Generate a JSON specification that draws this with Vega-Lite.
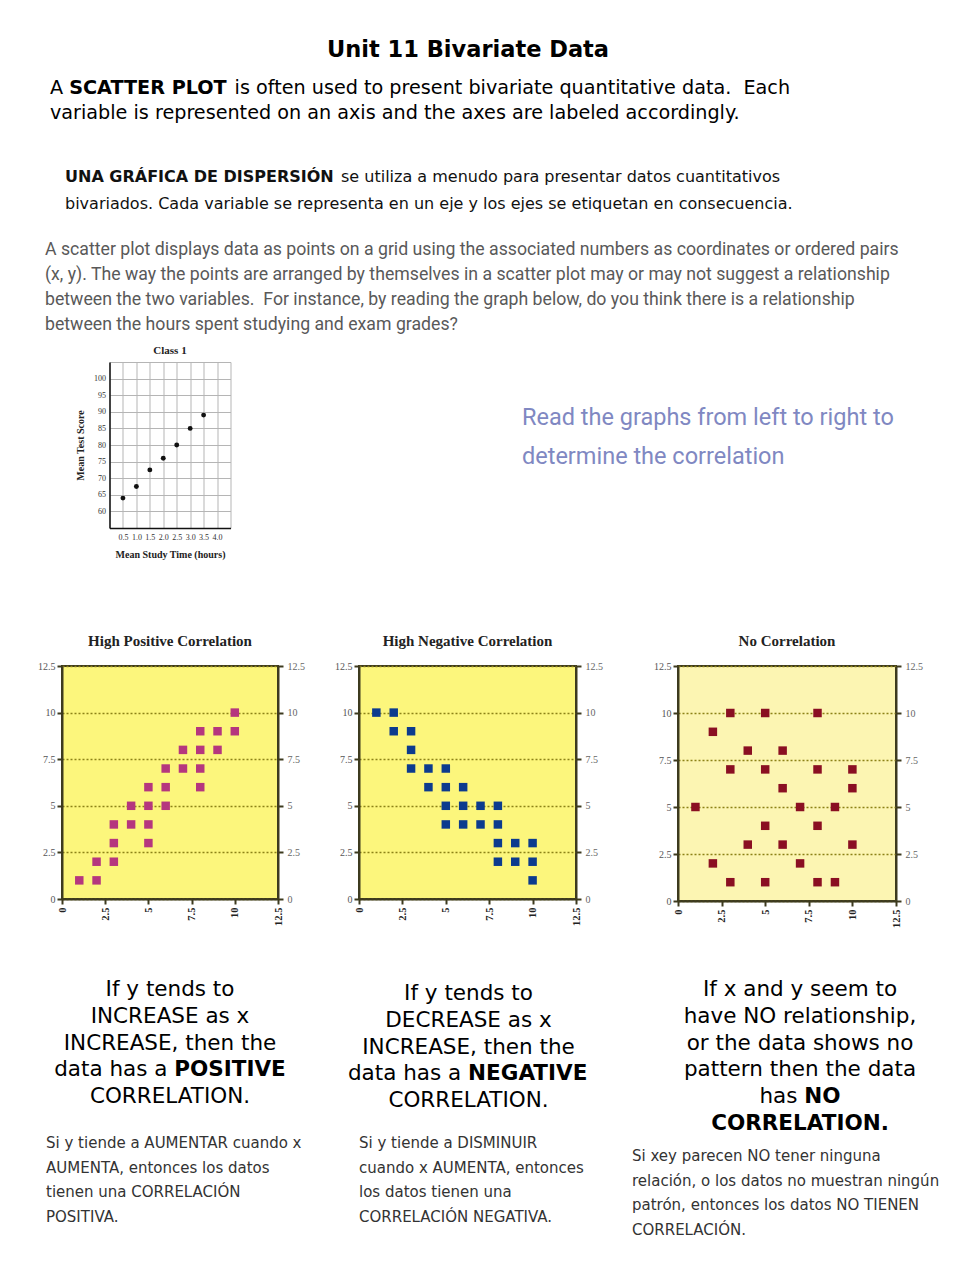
{
  "$schema": "https://vega.github.io/schema/vega-lite/v6.json",
  "background": "white",
  "padding": 0,
  "columns": 4,
  "spacing": {"row": 0, "column": 19},
  "bounds": "flush",
  "center": {"row": false, "column": true},
  "config": {"view": {"stroke": null}},
  "concat": [
    {"width": 340, "height": 1, "data": {"values": []}, "mark": "text"},
    {"width": 218, "height": 78, "data": {"values": [{"t": "Unit 11 Bivariate Data"}]},
     "mark": {"type": "text", "font": "DejaVu Sans", "fontSize": 22.5, "fontWeight": "bold", "baseline": "top", "align": "center", "color": "#000"},
     "encoding": {"text": {"field": "t"}}},
    {"width": 27, "height": 1, "data": {"values": []}, "mark": "text"},
    {"width": 1, "height": 1, "data": {"values": []}, "mark": "text"},

    {"width": 240, "height": 2,
     "data": {"values": [{"a": "A\nvariable is represented on an axis and the axes are labeled accordingly.", "b": "SCATTER PLOT", "c": "is often used to present bivariate quantitative data.\u00a0 Each"}]},
     "encoding": {"x": {"datum": 0, "type": "quantitative", "scale": {"domain": [0, 1]}, "axis": null}},
     "layer": [
       {"mark": {"type": "text", "font": "DejaVu Sans", "fontSize": 19.2, "baseline": "top", "align": "left", "lineBreak": "\n", "lineHeight": 25, "color": "#000"}, "encoding": {"text": {"field": "a"}}},
       {"mark": {"type": "text", "font": "DejaVu Sans", "fontSize": 19.2, "fontWeight": "bold", "baseline": "top", "align": "left", "dx": 19.2, "color": "#000"}, "encoding": {"text": {"field": "b"}}},
       {"mark": {"type": "text", "font": "DejaVu Sans", "fontSize": 19.2, "baseline": "top", "align": "left", "dx": 184.6, "color": "#000"}, "encoding": {"text": {"field": "c"}}}
     ]},
    {"width": 254, "height": 90, "data": {"values": []}, "mark": "text"},
    {"width": 1, "height": 1, "data": {"values": []}, "mark": "text"},
    {"width": 1, "height": 1, "data": {"values": []}, "mark": "text"},

    {"width": 210, "height": 2.8,
     "data": {"values": [{"a": "UNA GRÁFICA DE DISPERSIÓN", "b": "se utiliza a menudo para presentar datos cuantitativos", "c": "bivariados. Cada variable se representa en un eje y los ejes se etiquetan en consecuencia."}]},
     "encoding": {"x": {"datum": 0, "type": "quantitative", "scale": {"domain": [0, 1]}, "axis": null}},
     "layer": [
       {"mark": {"type": "text", "font": "DejaVu Sans", "fontSize": 16, "fontWeight": "bold", "baseline": "top", "align": "left", "color": "#111"}, "encoding": {"text": {"field": "a"}}},
       {"mark": {"type": "text", "font": "DejaVu Sans", "fontSize": 16, "baseline": "top", "align": "left", "dx": 276, "color": "#111"}, "encoding": {"text": {"field": "b"}}},
       {"mark": {"type": "text", "font": "DejaVu Sans", "fontSize": 16, "baseline": "top", "align": "left", "dy": 27, "color": "#111"}, "encoding": {"text": {"field": "c"}}}
     ]},
    {"width": 1, "height": 71, "data": {"values": []}, "mark": "text"},
    {"width": 1, "height": 1, "data": {"values": []}, "mark": "text"},
    {"width": 1, "height": 1, "data": {"values": []}, "mark": "text"},

    {"width": 250, "height": 3.2,
     "data": {"values": [{"t": "A scatter plot displays data as points on a grid using the associated numbers as coordinates or ordered pairs\n(x, y). The way the points are arranged by themselves in a scatter plot may or may not suggest a relationship\nbetween the two variables.\u00a0 For instance, by reading the graph below, do you think there is a relationship\nbetween the hours spent studying and exam grades?"}]},
     "mark": {"type": "text", "font": "Roboto", "fontSize": 17.7, "baseline": "top", "align": "left", "lineBreak": "\n", "lineHeight": 25, "color": "#595959"},
     "encoding": {"x": {"datum": 0, "type": "quantitative", "scale": {"domain": [0, 1]}, "axis": null}, "text": {"field": "t"}}},
    {"width": 1, "height": 123, "data": {"values": []}, "mark": "text"},
    {"width": 1, "height": 1, "data": {"values": []}, "mark": "text"},
    {"width": 1, "height": 1, "data": {"values": []}, "mark": "text"},

    {"width": 121, "height": 166,
     "title": {"text": "Class 1", "font": "Liberation Serif", "fontSize": 11, "fontWeight": "bold", "color": "#222", "frame": "group", "offset": 6},
     "view": {"stroke": "#b5b5b5", "strokeWidth": 1},
     "data": {"values": [
       {"time": 0.5, "score": 64}, {"time": 1.0, "score": 67.5}, {"time": 1.5, "score": 72.5},
       {"time": 2.0, "score": 76}, {"time": 2.5, "score": 80}, {"time": 3.0, "score": 85}, {"time": 3.5, "score": 89}
     ]},
     "mark": {"type": "circle", "size": 24, "color": "#111", "opacity": 1},
     "encoding": {
       "x": {"field": "time", "type": "quantitative", "scale": {"domain": [0, 4.5], "nice": false, "zero": false},
             "axis": {"values": [0.5, 1, 1.5, 2, 2.5, 3, 3.5, 4], "format": ".1f", "grid": true, "gridColor": "#b5b5b5", "tickSize": 0, "domainColor": "#111", "domainWidth": 1.5, "labelFont": "Liberation Serif", "labelFontSize": 8, "labelColor": "#333", "labelPadding": 5, "title": "Mean Study Time (hours)", "titleFont": "Liberation Serif", "titleFontSize": 10, "titleFontWeight": "bold", "titleColor": "#222", "titlePadding": 8}},
       "y": {"field": "score", "type": "quantitative", "scale": {"domain": [55, 105], "nice": false, "zero": false},
             "axis": {"values": [60, 65, 70, 75, 80, 85, 90, 95, 100], "grid": true, "gridColor": "#b5b5b5", "tickSize": 0, "domainColor": "#111", "domainWidth": 1.5, "labelFont": "Liberation Serif", "labelFontSize": 8, "labelColor": "#333", "labelPadding": 4, "title": "Mean Test Score", "titleFont": "Liberation Serif", "titleFontSize": 10, "titleFontWeight": "bold", "titleColor": "#222", "titlePadding": 8}}
     }},
    {"width": 163, "height": 87,
     "data": {"values": [{"t": "Read the graphs from left to right to\ndetermine the correlation"}]},
     "mark": {"type": "text", "font": "Roboto", "fontSize": 23.5, "baseline": "top", "align": "left", "lineBreak": "\n", "lineHeight": 39, "color": "#8088c2"},
     "encoding": {"x": {"datum": 1, "type": "quantitative", "scale": {"domain": [0, 1]}, "axis": null}, "text": {"field": "t"}}},
    {"width": 1, "height": 304, "data": {"values": []}, "mark": "text"},
    {"width": 1, "height": 1, "data": {"values": []}, "mark": "text"},

    {"width": 216, "height": 233,
     "title": {"text": "High Positive Correlation", "font": "Liberation Serif", "fontSize": 15, "fontWeight": "bold", "color": "#222", "frame": "group", "offset": 12},
     "view": {"fill": "#fcf67c", "stroke": "#3d3a1f", "strokeWidth": 2},
     "data": {"values": [
       {"x": 1, "y": 1}, {"x": 2, "y": 1}, {"x": 2, "y": 2}, {"x": 3, "y": 2}, {"x": 3, "y": 3}, {"x": 3, "y": 4},
       {"x": 4, "y": 4}, {"x": 4, "y": 5}, {"x": 5, "y": 3}, {"x": 5, "y": 4}, {"x": 5, "y": 5}, {"x": 5, "y": 6},
       {"x": 6, "y": 5}, {"x": 6, "y": 6}, {"x": 6, "y": 7}, {"x": 7, "y": 7}, {"x": 7, "y": 8}, {"x": 8, "y": 6},
       {"x": 8, "y": 7}, {"x": 8, "y": 8}, {"x": 8, "y": 9}, {"x": 9, "y": 8}, {"x": 9, "y": 9}, {"x": 10, "y": 9}, {"x": 10, "y": 10}
     ]},
     "layer": [
       {"mark": {"type": "square", "size": 72, "color": "#b5367e", "opacity": 1, "filled": true},
        "encoding": {
          "x": {"field": "x", "type": "quantitative", "scale": {"domain": [0, 12.5], "nice": false},
                "axis": {"values": [0, 2.5, 5, 7.5, 10, 12.5], "format": ".1~f", "labelAngle": 270, "labelFont": "Liberation Serif", "labelFontSize": 10.5, "labelFontWeight": "bold", "labelColor": "#222", "labelOverlap": false, "labelFlush": false, "domainColor": "#3d3a1f", "domainWidth": 2, "tickColor": "#3d3a1f", "tickWidth": 2, "tickSize": 5, "labelPadding": 3, "grid": false, "title": null}},
          "y": {"field": "y", "type": "quantitative", "scale": {"domain": [0, 12.5], "nice": false},
                "axis": {"values": [0, 2.5, 5, 7.5, 10, 12.5], "format": ".1~f", "labelFont": "Liberation Serif", "labelFontSize": 10, "labelColor": "#555", "labelOverlap": false, "labelFlush": false, "domainColor": "#3d3a1f", "domainWidth": 2, "tickColor": "#3d3a1f", "tickWidth": 2, "tickSize": 5, "labelPadding": 2, "grid": true, "gridDash": [2, 2], "gridColor": "#8c8217", "gridWidth": 1.5, "title": null}}
        }},
       {"mark": {"type": "square", "size": 72, "opacity": 0},
        "encoding": {
          "y": {"field": "y", "type": "quantitative",
                "axis": {"orient": "right", "values": [0, 2.5, 5, 7.5, 10, 12.5], "format": ".1~f", "labelFont": "Liberation Serif", "labelFontSize": 10, "labelColor": "#666", "labelOverlap": false, "labelFlush": false, "domainColor": "#3d3a1f", "domainWidth": 2, "tickColor": "#3d3a1f", "tickWidth": 2, "tickSize": 5, "labelPadding": 4, "grid": false, "title": null}}
        }}
     ],
     "resolve": {"axis": {"y": "independent"}}},

    {"width": 217, "height": 233,
     "title": {"text": "High Negative Correlation", "font": "Liberation Serif", "fontSize": 15, "fontWeight": "bold", "color": "#222", "frame": "group", "offset": 12},
     "view": {"fill": "#fcf67c", "stroke": "#3d3a1f", "strokeWidth": 2},
     "data": {"values": [
       {"x": 1, "y": 10}, {"x": 2, "y": 10}, {"x": 2, "y": 9}, {"x": 3, "y": 9}, {"x": 3, "y": 8}, {"x": 3, "y": 7},
       {"x": 4, "y": 7}, {"x": 4, "y": 6}, {"x": 5, "y": 7}, {"x": 5, "y": 6}, {"x": 5, "y": 5}, {"x": 5, "y": 4},
       {"x": 6, "y": 6}, {"x": 6, "y": 5}, {"x": 6, "y": 4}, {"x": 7, "y": 5}, {"x": 7, "y": 4}, {"x": 8, "y": 5},
       {"x": 8, "y": 4}, {"x": 8, "y": 3}, {"x": 8, "y": 2}, {"x": 9, "y": 3}, {"x": 9, "y": 2}, {"x": 10, "y": 3},
       {"x": 10, "y": 2}, {"x": 10, "y": 1}
     ]},
     "layer": [
       {"mark": {"type": "square", "size": 72, "color": "#0c3b8e", "opacity": 1, "filled": true},
        "encoding": {
          "x": {"field": "x", "type": "quantitative", "scale": {"domain": [0, 12.5], "nice": false},
                "axis": {"values": [0, 2.5, 5, 7.5, 10, 12.5], "format": ".1~f", "labelAngle": 270, "labelFont": "Liberation Serif", "labelFontSize": 10.5, "labelFontWeight": "bold", "labelColor": "#222", "labelOverlap": false, "labelFlush": false, "domainColor": "#3d3a1f", "domainWidth": 2, "tickColor": "#3d3a1f", "tickWidth": 2, "tickSize": 5, "labelPadding": 3, "grid": false, "title": null}},
          "y": {"field": "y", "type": "quantitative", "scale": {"domain": [0, 12.5], "nice": false},
                "axis": {"values": [0, 2.5, 5, 7.5, 10, 12.5], "format": ".1~f", "labelFont": "Liberation Serif", "labelFontSize": 10, "labelColor": "#555", "labelOverlap": false, "labelFlush": false, "domainColor": "#3d3a1f", "domainWidth": 2, "tickColor": "#3d3a1f", "tickWidth": 2, "tickSize": 5, "labelPadding": 2, "grid": true, "gridDash": [2, 2], "gridColor": "#8c8217", "gridWidth": 1.5, "title": null}}
        }},
       {"mark": {"type": "square", "size": 72, "opacity": 0},
        "encoding": {
          "y": {"field": "y", "type": "quantitative",
                "axis": {"orient": "right", "values": [0, 2.5, 5, 7.5, 10, 12.5], "format": ".1~f", "labelFont": "Liberation Serif", "labelFontSize": 10, "labelColor": "#666", "labelOverlap": false, "labelFlush": false, "domainColor": "#3d3a1f", "domainWidth": 2, "tickColor": "#3d3a1f", "tickWidth": 2, "tickSize": 5, "labelPadding": 4, "grid": false, "title": null}}
        }}
     ],
     "resolve": {"axis": {"y": "independent"}}},

    {"width": 1, "height": 1, "data": {"values": []}, "mark": "text"},

    {"width": 218, "height": 235,
     "title": {"text": "No Correlation", "font": "Liberation Serif", "fontSize": 15, "fontWeight": "bold", "color": "#222", "frame": "group", "offset": 12},
     "view": {"fill": "#fcf5b2", "stroke": "#3d3a1f", "strokeWidth": 2},
     "data": {"values": [
       {"x": 3, "y": 10}, {"x": 5, "y": 10}, {"x": 8, "y": 10}, {"x": 2, "y": 9}, {"x": 4, "y": 8}, {"x": 6, "y": 8},
       {"x": 3, "y": 7}, {"x": 5, "y": 7}, {"x": 8, "y": 7}, {"x": 10, "y": 7}, {"x": 6, "y": 6}, {"x": 10, "y": 6},
       {"x": 1, "y": 5}, {"x": 7, "y": 5}, {"x": 9, "y": 5}, {"x": 5, "y": 4}, {"x": 8, "y": 4}, {"x": 4, "y": 3},
       {"x": 6, "y": 3}, {"x": 10, "y": 3}, {"x": 2, "y": 2}, {"x": 7, "y": 2}, {"x": 3, "y": 1}, {"x": 5, "y": 1},
       {"x": 8, "y": 1}, {"x": 9, "y": 1}
     ]},
     "layer": [
       {"mark": {"type": "square", "size": 72, "color": "#8a0f22", "opacity": 1, "filled": true},
        "encoding": {
          "x": {"field": "x", "type": "quantitative", "scale": {"domain": [0, 12.5], "nice": false},
                "axis": {"values": [0, 2.5, 5, 7.5, 10, 12.5], "format": ".1~f", "labelAngle": 270, "labelFont": "Liberation Serif", "labelFontSize": 10.5, "labelFontWeight": "bold", "labelColor": "#222", "labelOverlap": false, "labelFlush": false, "domainColor": "#3d3a1f", "domainWidth": 2, "tickColor": "#3d3a1f", "tickWidth": 2, "tickSize": 5, "labelPadding": 3, "grid": false, "title": null}},
          "y": {"field": "y", "type": "quantitative", "scale": {"domain": [0, 12.5], "nice": false},
                "axis": {"values": [0, 2.5, 5, 7.5, 10, 12.5], "format": ".1~f", "labelFont": "Liberation Serif", "labelFontSize": 10, "labelColor": "#555", "labelOverlap": false, "labelFlush": false, "domainColor": "#3d3a1f", "domainWidth": 2, "tickColor": "#3d3a1f", "tickWidth": 2, "tickSize": 5, "labelPadding": 2, "grid": true, "gridDash": [2, 2], "gridColor": "#8c8217", "gridWidth": 1.5, "title": null}}
        }},
       {"mark": {"type": "square", "size": 72, "opacity": 0},
        "encoding": {
          "y": {"field": "y", "type": "quantitative",
                "axis": {"orient": "right", "values": [0, 2.5, 5, 7.5, 10, 12.5], "format": ".1~f", "labelFont": "Liberation Serif", "labelFontSize": 10, "labelColor": "#666", "labelOverlap": false, "labelFlush": false, "domainColor": "#3d3a1f", "domainWidth": 2, "tickColor": "#3d3a1f", "tickWidth": 2, "tickSize": 5, "labelPadding": 4, "grid": false, "title": null}}
        }}
     ],
     "resolve": {"axis": {"y": "independent"}}},

    {"width": 250, "height": 156,
     "data": {"values": [{"a": "If y tends to\nINCREASE as x\nINCREASE, then the", "b": "data has a", "c": "POSITIVE", "d": "CORRELATION."}]},
     "layer": [
       {"mark": {"type": "text", "font": "DejaVu Sans", "fontSize": 21.5, "baseline": "top", "align": "center", "lineBreak": "\n", "lineHeight": 26.75, "color": "#000"}, "encoding": {"text": {"field": "a"}}},
       {"mark": {"type": "text", "font": "DejaVu Sans", "fontSize": 21.5, "baseline": "top", "align": "right", "dx": -2.5, "dy": 80.25, "color": "#000"}, "encoding": {"text": {"field": "b"}}},
       {"mark": {"type": "text", "font": "DejaVu Sans", "fontSize": 21.5, "fontWeight": "bold", "baseline": "top", "align": "left", "dx": 4.3, "dy": 80.25, "color": "#000"}, "encoding": {"text": {"field": "c"}}},
       {"mark": {"type": "text", "font": "DejaVu Sans", "fontSize": 21.5, "baseline": "top", "align": "center", "dy": 107, "color": "#000"}, "encoding": {"text": {"field": "d"}}}
     ]},
    {"width": 219, "height": 164,
     "data": {"values": [{"a": "If y tends to\nDECREASE as x\nINCREASE, then the", "b": "data has a", "c": "NEGATIVE", "d": "CORRELATION."}]},
     "layer": [
       {"mark": {"type": "text", "font": "DejaVu Sans", "fontSize": 21.5, "baseline": "top", "align": "center", "lineBreak": "\n", "lineHeight": 26.75, "color": "#000"}, "encoding": {"text": {"field": "a"}}},
       {"mark": {"type": "text", "font": "DejaVu Sans", "fontSize": 21.5, "baseline": "top", "align": "right", "dx": -7.25, "dy": 80.25, "color": "#000"}, "encoding": {"text": {"field": "b"}}},
       {"mark": {"type": "text", "font": "DejaVu Sans", "fontSize": 21.5, "fontWeight": "bold", "baseline": "top", "align": "left", "dx": -0.45, "dy": 80.25, "color": "#000"}, "encoding": {"text": {"field": "c"}}},
       {"mark": {"type": "text", "font": "DejaVu Sans", "fontSize": 21.5, "baseline": "top", "align": "center", "dy": 107, "color": "#000"}, "encoding": {"text": {"field": "d"}}}
     ]},
    {"width": 1, "height": 1, "data": {"values": []}, "mark": "text"},
    {"width": 244, "height": 156,
     "data": {"values": [{"a": "If x and y seem to\nhave NO relationship,\nor the data shows no\npattern then the data", "b": "has", "c": "NO", "d": "CORRELATION."}]},
     "layer": [
       {"mark": {"type": "text", "font": "DejaVu Sans", "fontSize": 21.5, "baseline": "top", "align": "center", "lineBreak": "\n", "lineHeight": 26.75, "color": "#000"}, "encoding": {"text": {"field": "a"}}},
       {"mark": {"type": "text", "font": "DejaVu Sans", "fontSize": 21.5, "baseline": "top", "align": "right", "dx": -2.55, "dy": 107, "color": "#000"}, "encoding": {"text": {"field": "b"}}},
       {"mark": {"type": "text", "font": "DejaVu Sans", "fontSize": 21.5, "fontWeight": "bold", "baseline": "top", "align": "left", "dx": 4.25, "dy": 107, "color": "#000"}, "encoding": {"text": {"field": "c"}}},
       {"mark": {"type": "text", "font": "DejaVu Sans", "fontSize": 21.5, "fontWeight": "bold", "baseline": "top", "align": "center", "dy": 133.75, "color": "#000"}, "encoding": {"text": {"field": "d"}}}
     ]},

    {"width": 248, "height": 142,
     "data": {"values": [{"t": "Si y tiende a AUMENTAR cuando x\nAUMENTA, entonces los datos\ntienen una CORRELACIÓN\nPOSITIVA."}]},
     "mark": {"type": "text", "font": "DejaVu Sans", "fontSize": 15, "baseline": "top", "align": "left", "lineBreak": "\n", "lineHeight": 24.7, "color": "#333"},
     "encoding": {"x": {"datum": 0, "type": "quantitative", "scale": {"domain": [0, 1]}, "axis": null}, "text": {"field": "t"}}},
    {"width": 227, "height": 142,
     "data": {"values": [{"t": "Si y tiende a DISMINUIR\ncuando x AUMENTA, entonces\nlos datos tienen una\nCORRELACIÓN NEGATIVA."}]},
     "mark": {"type": "text", "font": "DejaVu Sans", "fontSize": 15, "baseline": "top", "align": "left", "lineBreak": "\n", "lineHeight": 24.7, "color": "#333"},
     "encoding": {"x": {"datum": 0, "type": "quantitative", "scale": {"domain": [0, 1]}, "axis": null}, "text": {"field": "t"}}},
    {"width": 27, "height": 168,
     "data": {"values": [{"t": "Si xey parecen NO tener ninguna\nrelación, o los datos no muestran ningún\npatrón, entonces los datos NO TIENEN\nCORRELACIÓN."}]},
     "mark": {"type": "text", "font": "DejaVu Sans", "fontSize": 15, "baseline": "top", "align": "left", "lineBreak": "\n", "lineHeight": 24.7, "color": "#333"},
     "encoding": {"x": {"datum": 0, "type": "quantitative", "scale": {"domain": [0, 1]}, "axis": null}, "text": {"field": "t"}}},
    {"width": 1, "height": 1, "data": {"values": []}, "mark": "text"}
  ]
}
